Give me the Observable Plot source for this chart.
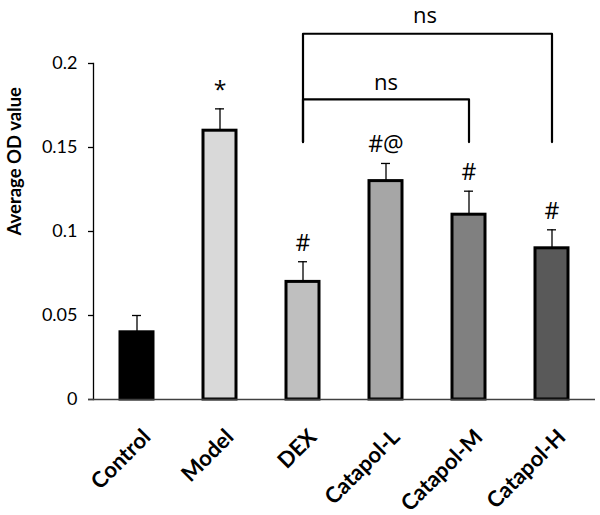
<!DOCTYPE html>
<html>
<head>
<meta charset="utf-8">
<script src="https://cdn.jsdelivr.net/npm/d3@7"></script>
<script src="https://cdn.jsdelivr.net/npm/@observablehq/plot@0.6"></script>
<style>
  html, body { margin: 0; padding: 0; background: #fff; }
  #chart svg { display: block; }
</style>
</head>
<body>
<div id="chart"></div>
<script>
// ---- data ----
const groups = ["Control", "Model", "DEX", "Catapol-L", "Catapol-M", "Catapol-H"];
const values = [0.04, 0.16, 0.07, 0.13, 0.11, 0.09];
const errors = [0.010, 0.013, 0.012, 0.0105, 0.014, 0.011];
const fills = ["#000000", "#d9d9d9", "#bfbfbf", "#a6a6a6", "#808080", "#595959"];
const marks = ["", "*", "#", "#@", "#", "#"];

const yTicks = [0, 0.05, 0.1, 0.15, 0.2];
const yTickLabels = ["0", "0.05", "0.1", "0.15", "0.2"];
const yLabel = "Average OD value";

// significance brackets: from group, to group, bracket level, foot level, label
const bracketFrom = ["DEX", "DEX"];
const bracketTo = ["Catapol-H", "Catapol-M"];
const bracketLevel = [0.2177, 0.1786];
const bracketFoot = [0.1532, 0.1532];
const bracketLabel = ["ns", "ns"];

// ---- tables built from the arrays ----
const data = groups.map((g, i) => ({group: g, value: values[i], err: errors[i], fill: fills[i], sig: marks[i]}));
const bracketPts = [];
bracketFrom.forEach((f, i) => {
  bracketPts.push({id: i, x: f, y: bracketFoot[i]});
  bracketPts.push({id: i, x: f, y: bracketLevel[i]});
  bracketPts.push({id: i, x: bracketTo[i], y: bracketLevel[i]});
  bracketPts.push({id: i, x: bracketTo[i], y: bracketFoot[i]});
});

const annoFont = "'Open Sans', sans-serif";

const chart = Plot.plot({
  width: 600,
  height: 515,
  marginLeft: 93,
  marginRight: 5,
  marginTop: 63,
  marginBottom: 116,
  style: {fontFamily: "Lato, 'Open Sans', sans-serif", background: "#fff", color: "#000"},
  x: {domain: groups, paddingInner: 0.606, paddingOuter: 0.303, axis: null},
  y: {domain: [0, 0.2], axis: null},
  color: {type: "identity"},
  marks: [
    Plot.axisY({
      ticks: yTicks,
      tickFormat: d => yTickLabels[yTicks.indexOf(d)],
      tickSize: 5,
      tickPadding: 11,
      fontSize: 18,
      label: null,
      stroke: "#000",
      strokeWidth: 1.3
    }),
    Plot.frame({anchor: "left", stroke: "#000", strokeWidth: 1.3}),
    Plot.barY(data, {x: "group", y: "value", fill: "fill", stroke: "#000", strokeWidth: 3}),
    Plot.ruleY([0], {stroke: "#404040", strokeWidth: 1.4, insetLeft: -5}),
    Plot.ruleX(data, {x: "group", y1: "value", y2: d => d.value + d.err, stroke: "#000", strokeWidth: 1.3}),
    Plot.tickY(data, {x: "group", y: d => d.value + d.err, inset: 12, stroke: "#000", strokeWidth: 1.3}),
    Plot.text(data, {x: "group", y: d => d.value + d.err, text: "sig", lineAnchor: "bottom", dy: -11, fontSize: 23, fontFamily: annoFont, fill: "#000"}),
    Plot.line(bracketPts, {x: "x", y: "y", z: "id", stroke: "#000", strokeWidth: 2.2, strokeLinejoin: "round"}),
    Plot.text([0], {x: () => "Catapol-L", y: () => bracketLevel[0], text: () => bracketLabel[0], dx: 39, dy: -11, lineAnchor: "bottom", fontSize: 22, fontFamily: annoFont, fill: "#000"}),
    Plot.text([1], {x: () => "Catapol-L", y: () => bracketLevel[1], text: () => bracketLabel[1], dx: 0, dy: -9, lineAnchor: "bottom", fontSize: 22, fontFamily: annoFont, fill: "#000"}),
    Plot.text(groups, {x: d => d, frameAnchor: "bottom", text: d => d, rotate: -45, textAnchor: "end", lineAnchor: "middle", dx: 10, dy: 34, fontSize: 22, fontWeight: "bold", fill: "#000"}),
    Plot.text([yLabel], {frameAnchor: "left", text: d => d, rotate: -90, dx: -78, dy: 4, fontSize: 18.5, fontWeight: "bold", fill: "#000"})
  ]
});
document.getElementById("chart").appendChild(chart);
</script>
</body>
</html>
